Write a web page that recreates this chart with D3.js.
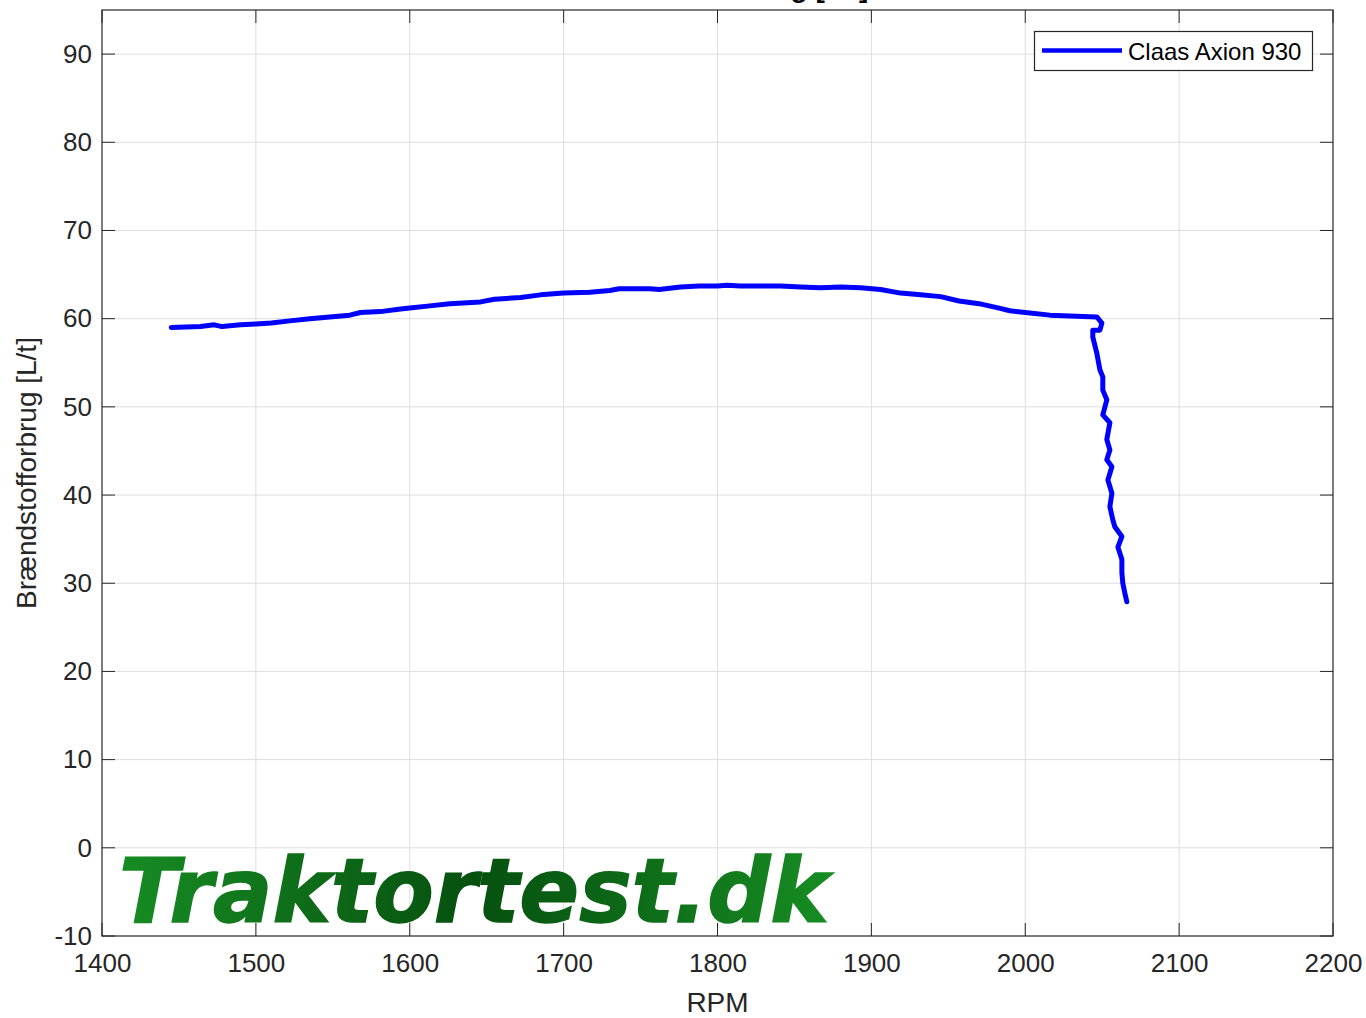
<!DOCTYPE html>
<html>
<head>
<meta charset="utf-8">
<script src="https://cdn.jsdelivr.net/npm/d3@7"></script>
<style>
  body { margin: 0; background: #fff; }
  text { font-family: "Liberation Sans", Arial, sans-serif; fill: #262626; }
</style>
</head>
<body>
<svg id="chart"></svg>
<script>
// chart data
const xTicks = [1400, 1500, 1600, 1700, 1800, 1900, 2000, 2100, 2200];
const yTicks = [-10, 0, 10, 20, 30, 40, 50, 60, 70, 80, 90];
const seriesName = 'Claas Axion 930';
const rpm = [1445, 1464, 1473, 1478, 1490, 1500, 1510, 1522, 1535, 1548, 1561, 1568, 1581, 1594, 1600,
  1613, 1626, 1646, 1655, 1672, 1685, 1700, 1717, 1730, 1736, 1756, 1762, 1776, 1788, 1800, 1806,
  1815, 1828, 1841, 1854, 1867, 1880, 1893, 1906, 1919, 1932, 1945, 1957, 1970, 1983, 1990, 2000,
  2016, 2029, 2046.5, 2049.8, 2048.5, 2043.9, 2043.9, 2046.5, 2048.5, 2050.4, 2050.4, 2053.0, 2050.4,
  2055.0, 2053.0, 2055.0, 2053.0, 2056.3, 2053.7, 2056.3, 2055.0, 2056.9, 2058.2, 2062.8, 2060.2,
  2062.8, 2062.8, 2063.4, 2064.7, 2066.0];
const fuel = [59.0, 59.1, 59.3, 59.1, 59.3, 59.4, 59.5, 59.75, 60.0, 60.2, 60.4, 60.7, 60.8, 61.1, 61.2,
  61.45, 61.7, 61.9, 62.2, 62.4, 62.7, 62.9, 63.0, 63.2, 63.4, 63.4, 63.3, 63.6, 63.7, 63.7, 63.8,
  63.7, 63.7, 63.7, 63.6, 63.5, 63.6, 63.5, 63.3, 62.9, 62.7, 62.5, 62.0, 61.7, 61.2, 60.9, 60.7,
  60.4, 60.3, 60.2, 59.5, 58.7, 58.7, 57.9, 56.1, 54.2, 53.4, 51.9, 50.8, 49.1,
  48.2, 46.3, 45.1, 44.0, 43.2, 41.7, 40.2, 38.7, 37.2, 36.4, 35.3, 34.1,
  32.7, 31.2, 30.0, 28.9, 27.9];

const data = rpm.map((r, i) => ({ rpm: r, fuel: fuel[i] }));

const W = 1366, H = 1018;
const margin = { top: 10, right: 33, bottom: 82, left: 102 };
const width = W - margin.left - margin.right;
const height = H - margin.top - margin.bottom;
const tickLen = 13;

const svg = d3.select('#chart').attr('width', W).attr('height', H);
const chart = svg.append('g').attr('transform', `translate(${margin.left},${margin.top})`);

const x = d3.scaleLinear().domain([1400, 2200]).range([0, width]);
const y = d3.scaleLinear().domain([-10, 95]).range([height, 0]);

// gridlines
chart.append('g').selectAll('line').data(xTicks.slice(1, -1)).join('line')
    .attr('x1', d => x(d)).attr('x2', d => x(d)).attr('y1', 0).attr('y2', height)
    .attr('stroke', '#dedede').attr('stroke-width', 1);
chart.append('g').selectAll('line').data(yTicks.slice(1)).join('line')
    .attr('y1', d => y(d)).attr('y2', d => y(d)).attr('x1', 0).attr('x2', width)
    .attr('stroke', '#dedede').attr('stroke-width', 1);

// watermark
const defs = svg.append('defs');
const grad = defs.append('linearGradient').attr('id', 'wm')
    .attr('gradientUnits', 'userSpaceOnUse')
    .attr('x1', 118).attr('x2', 830).attr('y1', 0).attr('y2', 0);
grad.append('stop').attr('offset', '0%').attr('stop-color', '#178c23');
grad.append('stop').attr('offset', '50%').attr('stop-color', '#06500f');
grad.append('stop').attr('offset', '100%').attr('stop-color', '#178c23');

svg.append('text')
    .attr('x', 119).attr('y', 922)
    .attr('textLength', 710).attr('lengthAdjust', 'spacingAndGlyphs')
    .style('font-family', '"DejaVu Sans", sans-serif')
    .style('font-weight', 'bold').style('font-style', 'italic')
    .style('font-size', '89px')
    .style('fill', 'url(#wm)')
    .style('stroke', 'url(#wm)').style('stroke-width', 1.5)
    .text('Traktortest.dk');

// axes
const xAxis = d3.axisBottom(x).tickValues(xTicks).tickSize(0).tickPadding(18).tickFormat(d => String(d));
const yAxis = d3.axisLeft(y).tickValues(yTicks).tickSize(0).tickPadding(10).tickFormat(d => String(d));

const xAxisG = chart.append('g').attr('transform', `translate(0,${height})`).call(xAxis);
const yAxisG = chart.append('g').call(yAxis);
[xAxisG, yAxisG].forEach(g => {
  g.select('.domain').remove();
  g.selectAll('text').style('font-size', '26px').style('fill', '#262626')
      .style('font-family', '"Liberation Sans", Arial, sans-serif');
});

// inward ticks on all four sides
const tk = chart.append('g').attr('stroke', '#262626').attr('stroke-width', 1);
xTicks.forEach(t => {
  tk.append('line').attr('x1', x(t)).attr('x2', x(t)).attr('y1', height).attr('y2', height - tickLen);
  tk.append('line').attr('x1', x(t)).attr('x2', x(t)).attr('y1', 0).attr('y2', tickLen);
});
yTicks.forEach(t => {
  tk.append('line').attr('y1', y(t)).attr('y2', y(t)).attr('x1', 0).attr('x2', tickLen);
  tk.append('line').attr('y1', y(t)).attr('y2', y(t)).attr('x1', width).attr('x2', width - tickLen);
});

// the series
const line = d3.line().x(d => x(d.rpm)).y(d => y(d.fuel));
chart.append('path').datum(data)
    .attr('fill', 'none').attr('stroke', '#0000ff').attr('stroke-width', 5)
    .attr('stroke-linejoin', 'round').attr('stroke-linecap', 'round')
    .attr('d', line);

// box
chart.append('rect').attr('width', width).attr('height', height)
    .attr('fill', 'none').attr('stroke', '#262626').attr('stroke-width', 1.2);

// labels
svg.append('text').attr('x', margin.left + width / 2).attr('y', 1012)
    .attr('text-anchor', 'middle').style('font-size', '28px').text('RPM');
svg.append('text')
    .attr('transform', `translate(36,${margin.top + height / 2}) rotate(-90)`)
    .attr('text-anchor', 'middle').style('font-size', '28px').text('Brændstofforbrug [L/t]');
svg.append('text').attr('x', margin.left + width / 2).attr('y', -3)
    .attr('text-anchor', 'middle').style('font-size', '28px').style('font-weight', 'bold')
    .style('fill', '#000').text('Brændstofforbrug [L/t]');

// legend
const lg = svg.append('g');
lg.append('rect').attr('x', 1034.5).attr('y', 31.5).attr('width', 278).attr('height', 39)
    .attr('fill', '#fff').attr('stroke', '#262626').attr('stroke-width', 1.2);
lg.append('line').attr('x1', 1042).attr('x2', 1122).attr('y1', 50.5).attr('y2', 50.5)
    .attr('stroke', '#0000ff').attr('stroke-width', 4.5);
lg.append('text').attr('x', 1128).attr('y', 59.5).style('font-size', '24px').style('fill', '#000')
    .text(seriesName);
</script>
</body>
</html>
